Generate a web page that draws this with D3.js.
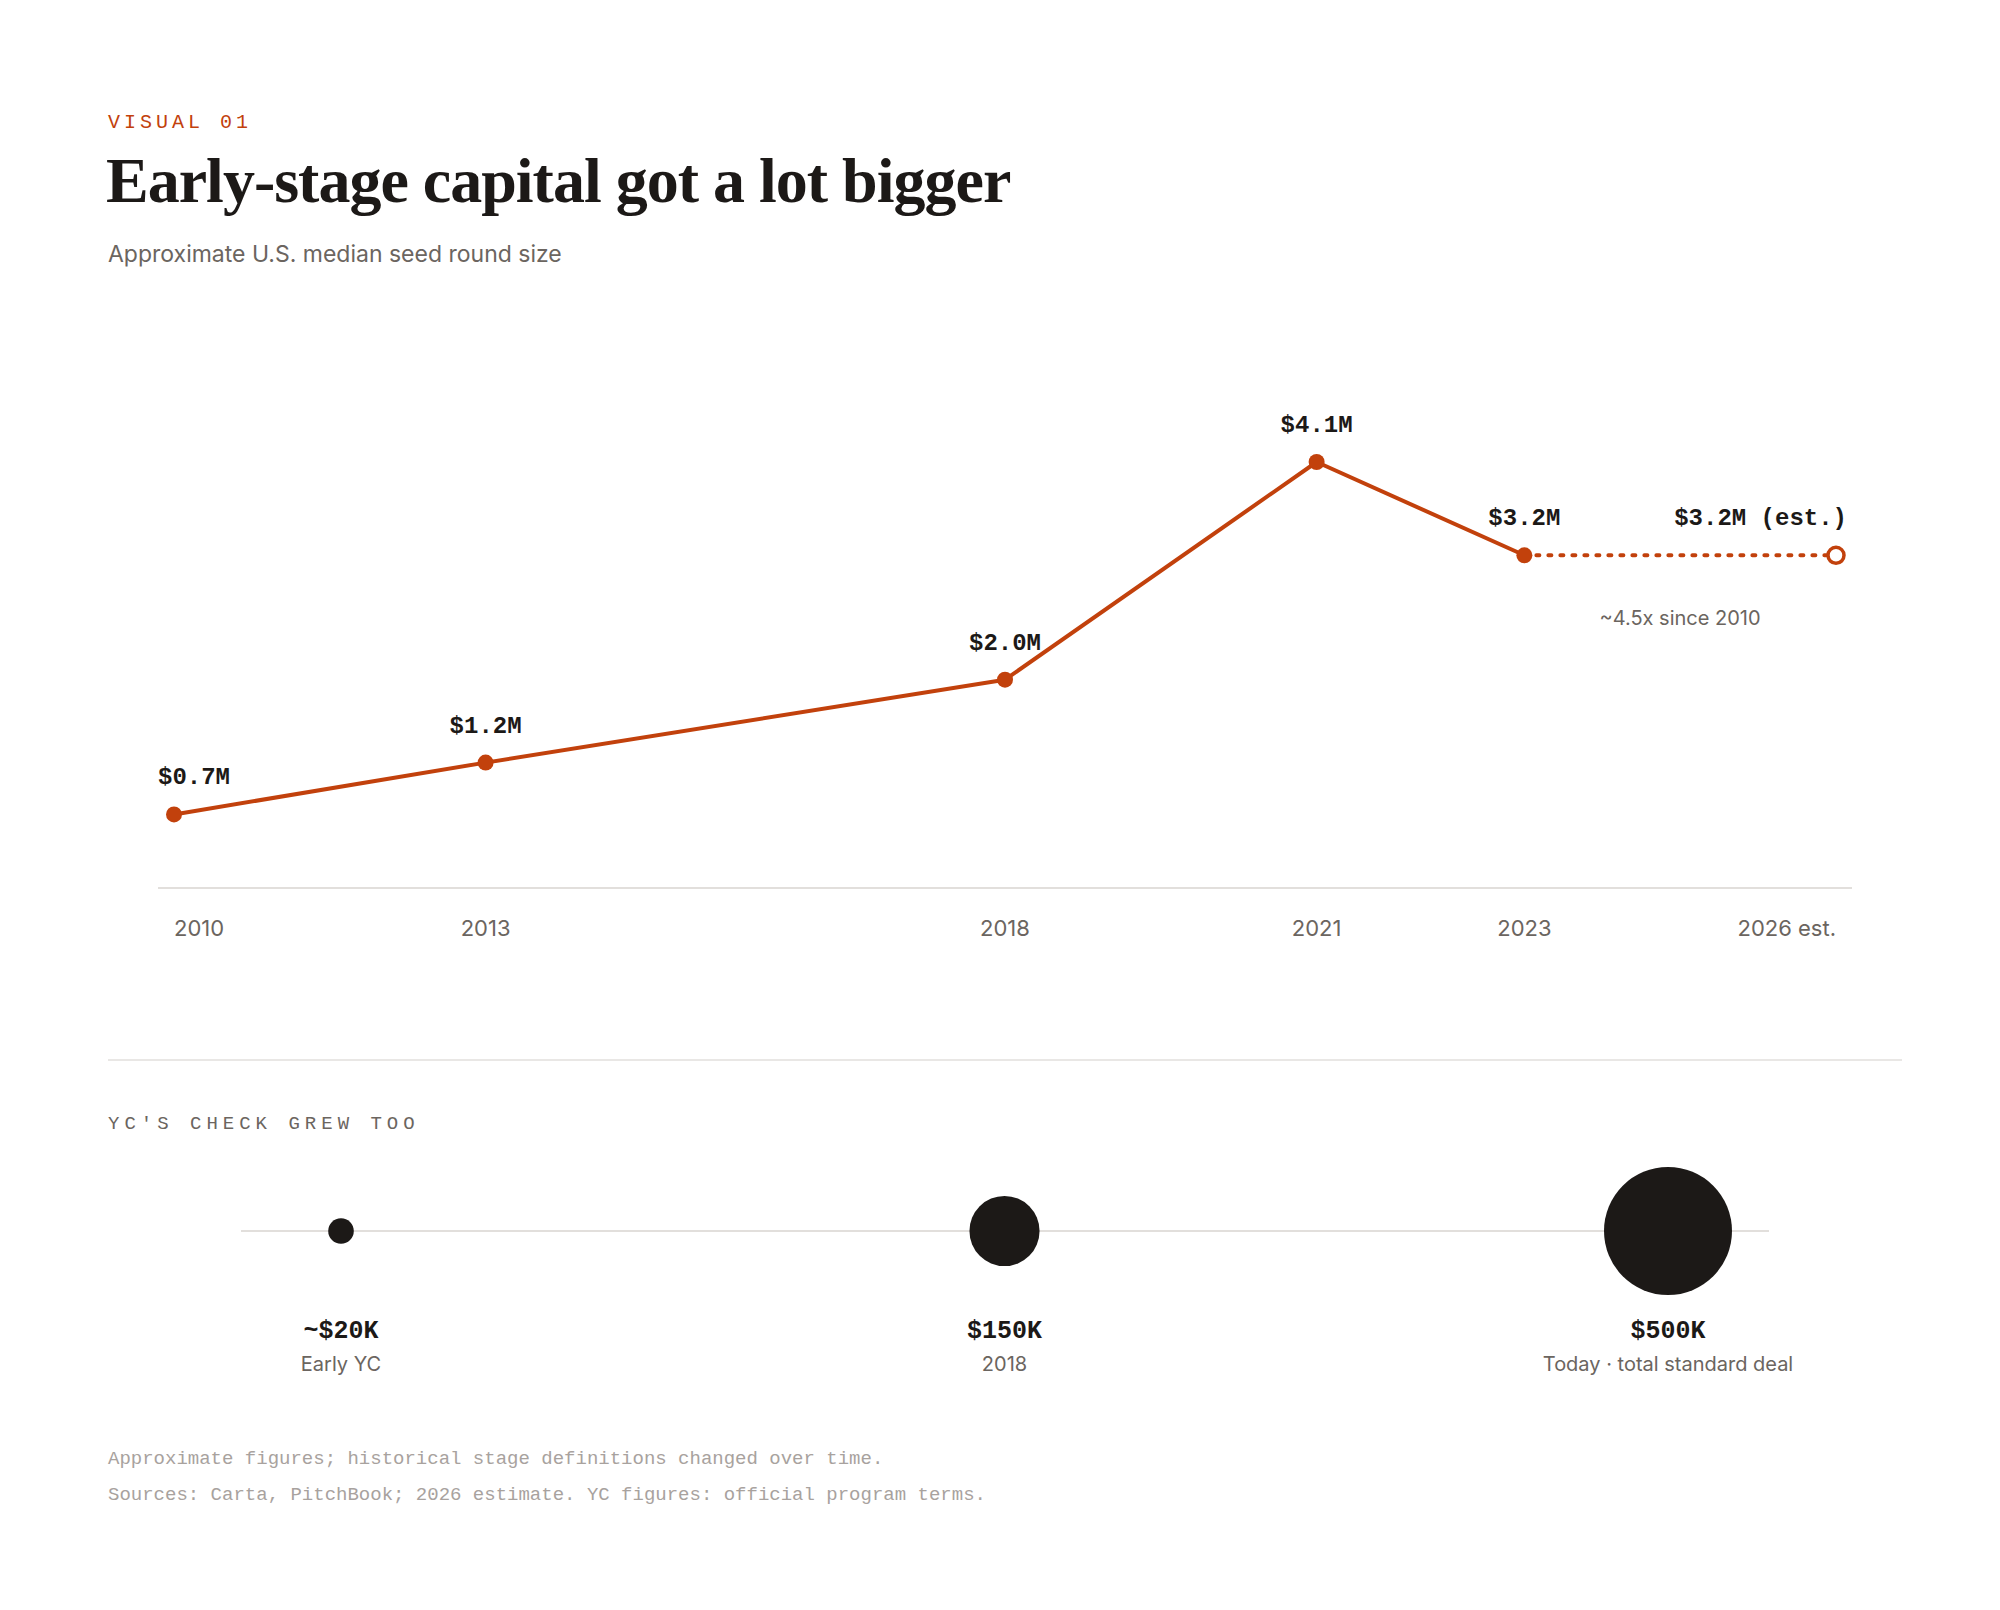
<!DOCTYPE html>
<html><head><meta charset="utf-8">
<script src="https://cdn.jsdelivr.net/npm/d3@7"></script>
<style>body{margin:0;background:#fff}</style>
</head><body>
<svg id="chart" width="2000" height="1610"></svg>
<script>
// seed round medians ($M)
const years = [2010, 2013, 2018, 2021, 2023, 2026];
const yearLabels = ["2010", "2013", "2018", "2021", "2023", "2026 est."];
const seedValues = [0.7, 1.2, 2.0, 4.1, 3.2, 3.2];
const seedLabels = ["$0.7M", "$1.2M", "$2.0M", "$4.1M", "$3.2M", "$3.2M (est.)"];
// YC check ($K)
const ycChecks = [20, 150, 500];
const ycLabels = ["~$20K", "$150K", "$500K"];
const ycNotes = ["Early YC", "2018", "Today · total standard deal"];

const ORANGE = "#c2410c", DARK = "#1c1917", GRAY = "#6b6560", LIGHT = "#a8a29e";
const MONO = "'Liberation Mono', monospace", SANS = "Inter, 'Open Sans', sans-serif";
const svg = d3.select("#chart");

// header
svg.append("text").attr("x", 108).attr("y", 128).attr("fill", ORANGE)
  .attr("font-family", MONO).attr("font-size", 20).attr("letter-spacing", 4).text("VISUAL 01");
svg.append("text").attr("x", 106).attr("y", 202).attr("fill", DARK)
  .attr("font-family", "'Liberation Serif', serif").attr("font-size", 64).attr("font-weight", 700)
  .attr("letter-spacing", -1).text("Early-stage capital got a lot bigger");
svg.append("text").attr("x", 108).attr("y", 262).attr("fill", GRAY)
  .attr("font-family", SANS).attr("font-size", 23).text("Approximate U.S. median seed round size");

// line chart
const x = d3.scaleLinear().domain([2010, 2026]).range([174, 1836]);
const y = d3.scaleLinear().domain([0, 4.1]).range([887, 462]);

svg.append("line").attr("x1", 158).attr("x2", 1852).attr("y1", 888).attr("y2", 888)
  .attr("stroke", "#e2dfdc").attr("stroke-width", 2);

const pts = years.map((yr, i) => ({yr, v: seedValues[i], i}));
const line = d3.line().x(d => x(d.yr)).y(d => y(d.v));
svg.append("path").datum(pts.slice(0, 5)).attr("d", line).attr("fill", "none")
  .attr("stroke", ORANGE).attr("stroke-width", 4).attr("stroke-linejoin", "round");
svg.append("path").datum(pts.slice(4)).attr("d", line).attr("fill", "none")
  .attr("stroke", ORANGE).attr("stroke-width", 4).attr("stroke-dasharray", "3 9")
  .attr("stroke-linecap", "round");

svg.selectAll(".pt").data(pts).enter().append("circle")
  .attr("cx", d => x(d.yr)).attr("cy", d => y(d.v))
  .attr("r", d => d.i === 5 ? 8 : 8)
  .attr("fill", d => d.i === 5 ? "#fff" : ORANGE)
  .attr("stroke", ORANGE).attr("stroke-width", d => d.i === 5 ? 3.5 : 0);

const anchor = i => i === 0 ? "start" : i === pts.length - 1 ? "end" : "middle";
const dx = i => i === 0 ? -16 : i === pts.length - 1 ? 11 : 0;
svg.selectAll(".vl").data(pts).enter().append("text")
  .attr("x", d => x(d.yr) + dx(d.i)).attr("y", d => y(d.v) - 30)
  .attr("text-anchor", d => anchor(d.i)).attr("fill", DARK)
  .attr("font-family", MONO).attr("font-size", 24).attr("font-weight", 700)
  .text(d => seedLabels[d.i]);

svg.selectAll(".tl").data(pts).enter().append("text")
  .attr("x", d => x(d.yr)).attr("y", 936)
  .attr("text-anchor", d => anchor(d.i)).attr("fill", GRAY)
  .attr("font-family", SANS).attr("font-size", 22).text(d => yearLabels[d.i]);

svg.append("text").attr("x", 1680).attr("y", 625).attr("text-anchor", "middle")
  .attr("fill", GRAY).attr("font-family", SANS).attr("font-size", 20).text("~4.5x since 2010");

// divider
svg.append("line").attr("x1", 108).attr("x2", 1902).attr("y1", 1060).attr("y2", 1060)
  .attr("stroke", "#e2dfdc").attr("stroke-width", 1.5);

// YC section
svg.append("text").attr("x", 108).attr("y", 1129).attr("fill", GRAY)
  .attr("font-family", MONO).attr("font-size", 19).attr("letter-spacing", 5).text("YC'S CHECK GREW TOO");

const bx = d3.scalePoint().domain(ycLabels).range([341, 1668]);
const r = d3.scaleSqrt().domain([0, 500]).range([0, 64]);
svg.append("line").attr("x1", 241).attr("x2", 1769).attr("y1", 1231).attr("y2", 1231)
  .attr("stroke", "#e2dfdc").attr("stroke-width", 2);
const yc = ycChecks.map((v, i) => ({v, i}));
svg.selectAll(".bub").data(yc).enter().append("circle")
  .attr("cx", d => bx(ycLabels[d.i])).attr("cy", 1231).attr("r", d => r(d.v)).attr("fill", DARK);
svg.selectAll(".bl").data(yc).enter().append("text")
  .attr("x", d => bx(ycLabels[d.i])).attr("y", 1338).attr("text-anchor", "middle").attr("fill", DARK)
  .attr("font-family", MONO).attr("font-size", 25).attr("font-weight", 700).text(d => ycLabels[d.i]);
svg.selectAll(".bn").data(yc).enter().append("text")
  .attr("x", d => bx(ycLabels[d.i])).attr("y", 1371).attr("text-anchor", "middle").attr("fill", GRAY)
  .attr("font-family", SANS).attr("font-size", 20).text(d => ycNotes[d.i]);

// footnotes
[["Approximate figures; historical stage definitions changed over time.", 1464],
 ["Sources: Carta, PitchBook; 2026 estimate. YC figures: official program terms.", 1500]]
  .forEach(([t, yy]) => svg.append("text").attr("x", 108).attr("y", yy).attr("fill", LIGHT)
    .attr("font-family", MONO).attr("font-size", 19).text(t));
</script>
</body></html>
